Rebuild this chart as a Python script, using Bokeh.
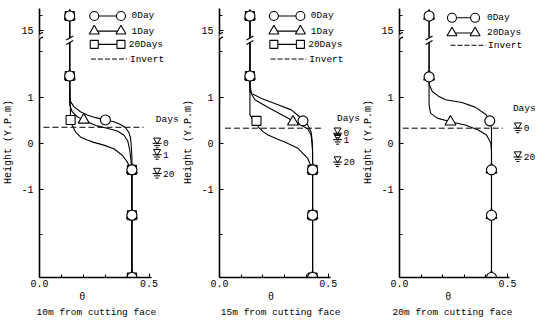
from bokeh.plotting import figure
from bokeh.layouts import row, column
from bokeh.models import FixedTicker, Arrow
from bokeh.core.properties import value
from bokeh.embed import file_html
from bokeh.resources import INLINE

# ---------------- data (theta = water content, h = height in m Y.P.) ----------------
titles = ["10m from cutting face", "15m from cutting face", "20m from cutting face"]

# 10 m panel
p10_series = ["0Day", "1Day", "20Days"]
p10_theta_0day = [0.138, 0.138, 0.301, 0.422, 0.422, 0.422]
p10_h_0day = [16, 1.47, 0.51, -0.58, -1.57, -2.93]
p10_theta_1day = [0.138, 0.138, 0.202, 0.422, 0.422, 0.422]
p10_h_1day = [16, 1.47, 0.51, -0.58, -1.57, -2.93]
p10_theta_20day = [0.138, 0.138, 0.142, 0.422, 0.422, 0.422]
p10_h_20day = [16, 1.47, 0.51, -0.58, -1.57, -2.93]
p10_curve_theta_0day = [0.138, 0.138, 0.138, 0.142, 0.157, 0.187, 0.218, 0.256, 0.301, 0.339, 0.370, 0.393, 0.408, 0.416, 0.419, 0.422, 0.422]
p10_curve_h_0day = [16, 1.47, 1.02, 0.91, 0.80, 0.69, 0.62, 0.56, 0.51, 0.47, 0.41, 0.34, 0.24, 0.11, -0.07, -0.30, -2.93]
p10_curve_theta_1day = [0.138, 0.138, 0.138, 0.149, 0.172, 0.202, 0.233, 0.263, 0.309, 0.355, 0.385, 0.403, 0.412, 0.417, 0.422, 0.422]
p10_curve_h_1day = [16, 1.47, 0.84, 0.69, 0.58, 0.51, 0.44, 0.38, 0.33, 0.27, 0.18, 0.05, -0.15, -0.36, -0.58, -2.93]
p10_curve_theta_20day = [0.138, 0.138, 0.142, 0.149, 0.164, 0.187, 0.218, 0.248, 0.294, 0.339, 0.378, 0.400, 0.416, 0.422, 0.422]
p10_curve_h_20day = [16, 1.47, 0.51, 0.40, 0.25, 0.14, 0.07, 0.02, -0.04, -0.12, -0.26, -0.40, -0.55, -0.58, -2.93]
p10_invert = 0.35
p10_wt_days = ["0", "1", "20"]
p10_wt_h = [0.0, -0.25, -0.66]

# 15 m panel
p15_series = ["0Day", "1Day", "20Days"]
p15_theta_0day = [0.14, 0.14, 0.384, 0.428, 0.428, 0.428]
p15_h_0day = [16, 1.47, 0.49, -0.58, -1.57, -2.93]
p15_theta_1day = [0.14, 0.14, 0.338, 0.428, 0.428, 0.428]
p15_h_1day = [16, 1.47, 0.47, -0.58, -1.57, -2.93]
p15_theta_20day = [0.14, 0.14, 0.170, 0.428, 0.428, 0.428]
p15_h_20day = [16, 1.47, 0.49, -0.58, -1.57, -2.93]
p15_curve_theta_0day = [0.14, 0.14, 0.14, 0.147, 0.193, 0.254, 0.330, 0.368, 0.384, 0.406, 0.421, 0.426, 0.428, 0.428]
p15_curve_h_0day = [16, 1.47, 1.27, 1.09, 0.98, 0.87, 0.73, 0.58, 0.49, 0.40, 0.25, 0.07, -0.10, -2.93]
p15_curve_theta_1day = [0.14, 0.14, 0.14, 0.163, 0.224, 0.284, 0.322, 0.338, 0.376, 0.406, 0.421, 0.426, 0.428, 0.428]
p15_curve_h_1day = [16, 1.47, 1.13, 0.95, 0.78, 0.63, 0.53, 0.47, 0.40, 0.31, 0.18, -0.04, -0.20, -2.93]
p15_curve_theta_20day = [0.14, 0.14, 0.14, 0.150, 0.170, 0.178, 0.201, 0.224, 0.262, 0.300, 0.361, 0.406, 0.425, 0.428, 0.428]
p15_curve_h_20day = [16, 1.47, 0.62, 0.55, 0.49, 0.36, 0.25, 0.18, 0.10, 0.03, -0.11, -0.33, -0.55, -0.58, -2.93]
p15_invert = 0.33
p15_wt_days = ["0", "1", "20"]
p15_wt_h = [0.22, 0.08, -0.41]

# 20 m panel
p20_series = ["0Day", "20Days"]
p20_theta_0day = [0.137, 0.137, 0.418, 0.426, 0.426, 0.426]
p20_h_0day = [16, 1.45, 0.49, -0.58, -1.57, -2.93]
p20_theta_20day = [0.137, 0.137, 0.236, 0.426, 0.426, 0.426]
p20_h_20day = [16, 1.45, 0.47, -0.58, -1.57, -2.93]
p20_curve_theta_0day = [0.137, 0.137, 0.137, 0.152, 0.183, 0.213, 0.289, 0.350, 0.400, 0.418, 0.426, 0.426]
p20_curve_h_0day = [16, 1.45, 1.29, 1.13, 1.02, 0.95, 0.89, 0.79, 0.63, 0.49, 0.33, -2.93]
p20_curve_theta_20day = [0.137, 0.137, 0.137, 0.144, 0.175, 0.236, 0.304, 0.365, 0.403, 0.423, 0.426, 0.426]
p20_curve_h_20day = [16, 1.45, 0.84, 0.66, 0.55, 0.47, 0.40, 0.29, 0.18, 0.0, -0.18, -2.93]
p20_invert = 0.33
p20_wt_days = ["0", "20"]
p20_wt_h = [0.33, -0.30]

# ---------------- styling / geometry ----------------
FONT = "Liberation Mono"
PXX = 219.0   # px per theta unit
PXY = 45.8    # px per metre (below the axis break)
Y_BOTTOM = -2.93
FRAME_H = 277
MAIN_H = 291
CAP_H = 321 - MAIN_H


def disp(h):
    """broken height axis: values above the break are compressed"""
    return h if h < 5 else 2.46 + (h - 15) * 0.32


def D(lst):
    return [disp(v) for v in lst]


SIZES = {"circle": 10, "triangle": 11, "square": 9}


def txt(p, x, y, t, align="left", size="9.5px"):
    p.text(x=x, y=y, text=t, text_font=value(FONT), text_font_size=value(size),
           text_align=align, text_baseline="middle", text_color="black")


def brk(p, x, y, annot):
    dy = 2.3 / PXY
    if annot:
        p.add_layout(Arrow(end=None, x_start=x, y_start=y - dy, x_end=x, y_end=y + dy,
                           line_color="white", line_width=4))
        for yc in (y - dy, y + dy):
            p.add_layout(Arrow(end=None, x_start=x - 3.5 / PXX, y_start=yc - 2 / PXY,
                               x_end=x + 3.5 / PXX, y_end=yc + 2 / PXY,
                               line_color="black", line_width=1.2))
    else:
        p.segment([x], [y - dy], [x], [y + dy], line_color="white", line_width=4)
        p.segment([x - 3.5 / PXX] * 2, [y - dy - 2 / PXY, y + dy - 2 / PXY],
                  [x + 3.5 / PXX] * 2, [y - dy + 2 / PXY, y + dy + 2 / PXY],
                  line_color="black", line_width=1.2)


def panel(bl, series, markers, curves, invert, inv_x, wt_days, wt_h, leg, wt_x, days_xy, vline_x):
    xmax = (180 - bl) / PXX
    y1 = Y_BOTTOM + FRAME_H / PXY
    p = figure(width=180, height=MAIN_H, x_range=(0, xmax), y_range=(Y_BOTTOM, y1),
               output_backend="svg", toolbar_location=None, title=None,
               min_border_left=bl, min_border_right=0, min_border_top=0,
               min_border_bottom=MAIN_H - FRAME_H)
    p.outline_line_color = None
    p.grid.visible = False
    p.background_fill_color = "white"
    p.border_fill_color = "white"

    xa = p.xaxis[0]
    xa.bounds = (0, 0.51)
    xa.ticker = FixedTicker(ticks=[0, 0.5], minor_ticks=[0.1, 0.2, 0.3, 0.4])
    xa.major_label_overrides = {0: "0.0", 0.5: "0.5"}
    xa.major_tick_in = 4
    xa.major_tick_out = 0
    xa.minor_tick_in = 3
    xa.minor_tick_out = 0
    xa.axis_line_width = 1.6
    xa.major_label_standoff = 2
    xa.major_label_text_font = FONT
    xa.major_label_text_font_size = "10px"
    xa.major_label_text_color = "black"

    ya = p.yaxis[0]
    ya.bounds = (Y_BOTTOM, 2.95)
    ya.ticker = FixedTicker(ticks=[-1, 0, 1, disp(15)], minor_ticks=[-2, 2.0, disp(16)])
    ya.major_label_overrides = {-1: "-1", 0: "0", 1: "1", disp(15): "15"}
    ya.major_tick_in = 4
    ya.major_tick_out = 0
    ya.minor_tick_in = 3
    ya.minor_tick_out = 0
    ya.axis_line_width = 1.6
    ya.major_label_standoff = 6
    ya.major_label_text_font = FONT
    ya.major_label_text_font_size = "10px"
    ya.major_label_text_color = "black"
    ya.axis_label = "Height  (Y.P.m)"
    ya.axis_label_text_font = FONT
    ya.axis_label_text_font_size = "10px"
    ya.axis_label_text_font_style = "normal"
    ya.axis_label_text_color = "black"
    ya.axis_label_standoff = 4

    # invert line
    p.line(inv_x, [invert, invert], line_color="black", line_width=1, line_dash="6 3")

    # profile curves
    for (ct, ch) in curves:
        p.line(ct, D(ch), line_color="black", line_width=1.1, line_join="round")

    # break marks on axis and on the profile line
    brk(p, 0.0, 2.33, True)
    brk(p, vline_x, 2.25, False)

    # markers: squares first, circles last
    order = sorted(range(len(series)), key=lambda i: {"square": 0, "triangle": 1, "circle": 2}[markers[i]])
    for i in order:
        mt, mh = leg["pts"][i]
        p.scatter(mt, D(mh), marker=markers[i], size=SIZES[markers[i]],
                  fill_color="white", line_color="black", line_width=1.1)

    # legend
    for i, name in enumerate(series):
        ly = leg["rows"][i]
        x0, x1 = leg["mx"]
        p.line([x0, x1], [ly, ly], line_color="black", line_width=1.1)
        p.scatter([x0, x1], [ly, ly], marker=markers[i], size=SIZES[markers[i]] - 1,
                  fill_color="white", line_color="black", line_width=1.1)
        txt(p, [leg["tx"][i]], [ly], [name])
    ly = leg["rows"][len(series)]
    p.line(leg["dash"], [ly, ly], line_color="black", line_width=1, line_dash="5 2")
    txt(p, [leg["tx"][-1]], [ly], ["Invert"])

    # water table symbols
    txt(p, [days_xy[0]], [days_xy[1]], ["Days"], align="center")
    n = len(wt_h)
    sx = wt_x
    p.scatter([sx] * n, [h + 3.2 / PXY for h in wt_h], marker="inverted_triangle", size=7,
              fill_color="white", line_color="black", line_width=1)
    p.segment([sx - 4.5 / PXX] * n, [h for h in wt_h], [sx + 4.5 / PXX] * n, [h for h in wt_h],
              line_color="black", line_width=1)
    p.segment([sx - 3 / PXX] * n, [h - 2.3 / PXY for h in wt_h], [sx + 3 / PXX] * n,
              [h - 2.3 / PXY for h in wt_h], line_color="black", line_width=1)
    p.segment([sx - 1.5 / PXX] * n, [h - 4.5 / PXY for h in wt_h], [sx + 1.5 / PXX] * n,
              [h - 4.5 / PXY for h in wt_h], line_color="black", line_width=1)
    txt(p, [sx + 6 / PXX] * n, wt_h, wt_days)
    return p


def caption(bl, title, theta_x, title_x):
    # strip under each panel: x in theta units (same scale as the panel), y in px from the bottom
    q = figure(width=180, height=CAP_H, x_range=(-bl / PXX, (180 - bl) / PXX), y_range=(0, CAP_H),
               output_backend="svg", toolbar_location=None, title=None,
               x_axis_type=None, y_axis_type=None,
               min_border_left=0, min_border_right=0, min_border_top=0, min_border_bottom=0)
    q.outline_line_color = None
    q.grid.visible = False
    q.background_fill_color = "white"
    q.border_fill_color = "white"
    txt(q, [theta_x], [321 - 297], ["θ"], align="center", size="10px")
    txt(q, [title_x], [321 - 312], [title], align="center", size="9.5px")
    return q


leg12 = dict(rows=[2.78, 2.45, 2.16, 1.84], mx=(0.25, 0.372), tx=[0.42, 0.42, 0.408, 0.413], dash=[0.235, 0.40])
leg3 = dict(rows=[2.74, 2.41, 2.14], mx=(0.243, 0.35), tx=[0.405, 0.405, 0.41], dash=[0.236, 0.40])

p1 = panel(39, p10_series, ["circle", "triangle", "square"],
           [(p10_curve_theta_0day, p10_curve_h_0day), (p10_curve_theta_1day, p10_curve_h_1day),
            (p10_curve_theta_20day, p10_curve_h_20day)],
           p10_invert, [0.018, 0.475], p10_wt_days, p10_wt_h,
           dict(leg12, pts=[(p10_theta_0day, p10_h_0day), (p10_theta_1day, p10_h_1day), (p10_theta_20day, p10_h_20day)]),
           0.537, (0.583, 0.51), 0.138)
p2 = panel(38, p15_series, ["circle", "triangle", "square"],
           [(p15_curve_theta_0day, p15_curve_h_0day), (p15_curve_theta_1day, p15_curve_h_1day),
            (p15_curve_theta_20day, p15_curve_h_20day)],
           p15_invert, [0.025, 0.48], p15_wt_days, p15_wt_h,
           dict(leg12, pts=[(p15_theta_0day, p15_h_0day), (p15_theta_1day, p15_h_1day), (p15_theta_20day, p15_h_20day)]),
           0.543, (0.593, 0.55), 0.14)
p3 = panel(37, p20_series, ["circle", "triangle"],
           [(p20_curve_theta_0day, p20_curve_h_0day), (p20_curve_theta_20day, p20_curve_h_20day)],
           p20_invert, [0.015, 0.478], p20_wt_days, p20_wt_h,
           dict(leg3, pts=[(p20_theta_0day, p20_h_0day), (p20_theta_20day, p20_h_20day)]),
           0.548, (0.578, 0.75), 0.137)

q1 = caption(39, titles[0], 0.195, 0.26)
q2 = caption(38, titles[1], 0.24, 0.284)
q3 = caption(37, titles[2], 0.232, 0.251)

layout = column(row(p1, p2, p3), row(q1, q2, q3))
open("out.html", "w").write(file_html(layout, INLINE))
